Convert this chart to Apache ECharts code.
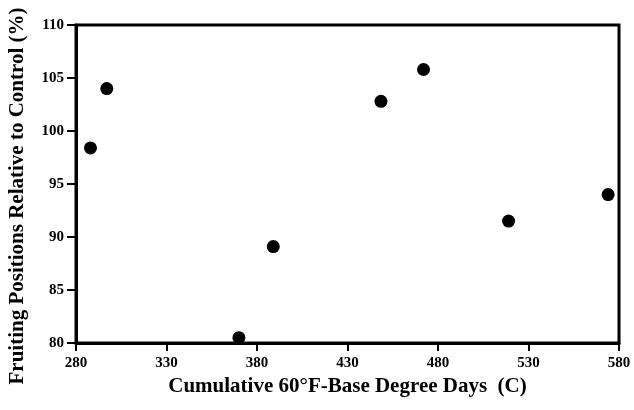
<!DOCTYPE html>
<html>
<head>
<meta charset="utf-8">
<script src="https://cdn.jsdelivr.net/npm/echarts@6/dist/echarts.min.js"></script>
<style>
  html, body { margin: 0; padding: 0; background: #fff; }
  #chart { width: 634px; height: 410px; }
</style>
</head>
<body>
<div id="chart"></div>
<script>
// degree days vs fruiting positions
const degreeDays = [288, 297, 370, 389, 448.5, 472, 519, 574]
const fruitingPct = [98.4, 104.0, 80.5, 89.1, 102.8, 105.8, 91.5, 94.0]
const xTicks = [280, 330, 380, 430, 480, 530, 580]
const yTicks = [80, 85, 90, 95, 100, 105, 110]

const font = 'Liberation Serif'
const points = degreeDays.map((d, i) => [d, fruitingPct[i]])

const chart = echarts.init(document.getElementById('chart'))
chart.setOption({
  animation: false,
  backgroundColor: '#fff',
  grid: {
    left: 76, right: 15, top: 25, bottom: 67,
    outerBoundsMode: 'none',
    show: true, borderColor: '#000', borderWidth: 3
  },
  xAxis: {
    type: 'value',
    min: xTicks[0], max: xTicks[xTicks.length - 1], interval: 50,
    name: 'Cumulative 60°F-Base Degree Days  (C)',
    nameLocation: 'middle', nameGap: 29,
    nameTextStyle: { fontFamily: font, fontWeight: 'bold', fontSize: 21, color: '#000' },
    axisLine: { lineStyle: { color: '#000', width: 3 } },
    axisTick: { length: 8, lineStyle: { color: '#000', width: 2 } },
    axisLabel: { fontFamily: font, fontWeight: 'bold', fontSize: 15, color: '#000', margin: 13 },
    splitLine: { show: false }
  },
  yAxis: {
    type: 'value',
    min: yTicks[0], max: yTicks[yTicks.length - 1], interval: 5,
    name: 'Fruiting Positions Relative to Control (%)',
    nameLocation: 'middle', nameGap: 48,
    nameTextStyle: {
      fontFamily: font, fontWeight: 'bold', fontSize: 21, color: '#000',
      padding: [0, 24, 0, 0] // push it a bit lower like the original
    },
    axisLine: { lineStyle: { color: '#000', width: 3 } },
    axisTick: { length: 9, lineStyle: { color: '#000', width: 2 } },
    axisLabel: { fontFamily: font, fontWeight: 'bold', fontSize: 15, color: '#000', margin: 12 },
    splitLine: { show: false }
  },
  series: [{
    type: 'scatter',
    data: points,
    symbol: 'circle',
    symbolSize: 13,
    itemStyle: { color: '#000', opacity: 1 }
  }]
})
</script>
</body>
</html>
